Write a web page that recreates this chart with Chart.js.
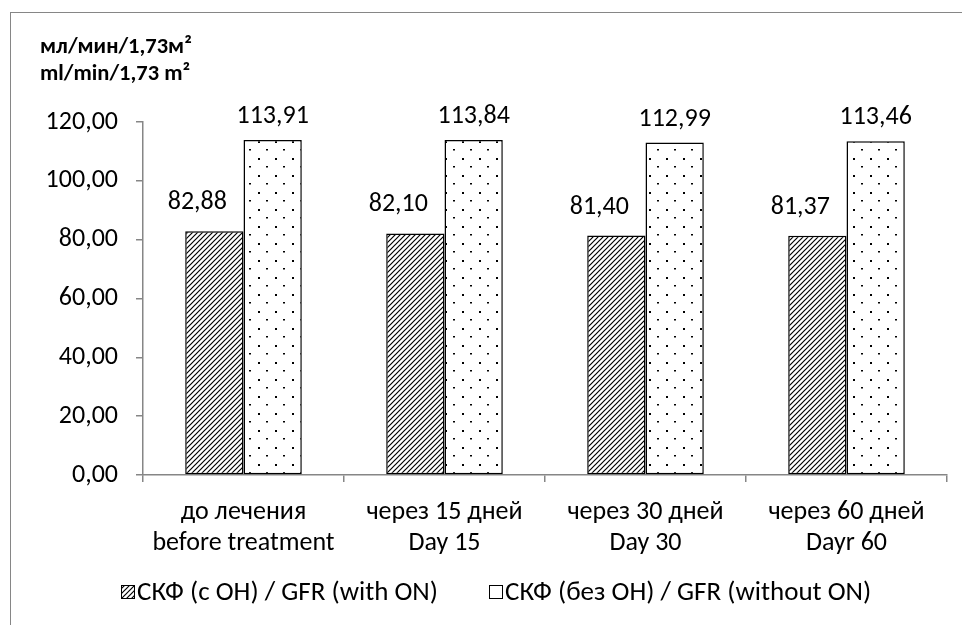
<!DOCTYPE html>
<html>
<head>
<meta charset="utf-8">
<script src="https://cdn.jsdelivr.net/npm/chart.js@4.4.1/dist/chart.umd.min.js"></script>
<style>
  html, body { margin: 0; padding: 0; background: #fff; }
  #wrap { width: 962px; height: 625px; }
</style>
</head>
<body>
<div id="wrap"><canvas id="chart"></canvas></div>
<script>
// data
const categories = [
  ['до лечения', 'before treatment'],
  ['через 15 дней', 'Day 15'],
  ['через 30 дней', 'Day 30'],
  ['через 60 дней', 'Dayr 60']
];
const seriesNames = ['СКФ (с ОН) / GFR (with ON)', 'СКФ (без ОН) / GFR (without ON)'];
const withON = [82.88, 82.10, 81.40, 81.37];
const withoutON = [113.91, 113.84, 112.99, 113.46];
const yTicks = [0, 20, 40, 60, 80, 100, 120];
const unitLines = ['мл/мин/1,73м²', 'ml/min/1,73 m²'];

const FONT = "Carlito, Lato, 'Noto Sans', sans-serif";
const AXIS_GREY = '#868686';

function fmt(v) {
  return v.toFixed(2).replace('.', ',');
}

// diagonal hatch fill
function hatchPattern() {
  const c = document.createElement('canvas');
  c.width = 5; c.height = 5;
  const g = c.getContext('2d');
  g.fillStyle = '#fff';
  g.fillRect(0, 0, 5, 5);
  g.strokeStyle = '#000';
  g.lineWidth = 1.2;
  g.beginPath();
  g.moveTo(0, 5); g.lineTo(5, 0);
  g.moveTo(-1, 1); g.lineTo(1, -1);
  g.moveTo(4, 6); g.lineTo(6, 4);
  g.stroke();
  return g.createPattern(c, 'repeat');
}

// sparse dots fill
function dotPattern() {
  const c = document.createElement('canvas');
  c.width = 17; c.height = 17;
  const g = c.getContext('2d');
  g.fillStyle = '#fff';
  g.fillRect(0, 0, 17, 17);
  g.fillStyle = '#000';
  g.fillRect(3, 5, 2, 2);
  g.fillRect(11, 13, 2, 1.5);
  return g.createPattern(c, 'repeat');
}

const framePlugin = {
  id: 'frame',
  beforeDraw(chart) {
    const ctx = chart.ctx;
    ctx.save();
    ctx.fillStyle = '#fff';
    ctx.fillRect(0, 0, chart.width, chart.height);
    ctx.strokeStyle = AXIS_GREY;
    ctx.lineWidth = 1;
    ctx.strokeRect(10.5, 12.5, 1000, 700);
    ctx.fillStyle = '#000';
    ctx.font = "bold 22.5px " + FONT;
    ctx.textBaseline = 'alphabetic';
    ctx.fillText(unitLines[0], 40, 53);
    ctx.fillText(unitLines[1], 40, 80);
    ctx.restore();
  }
};

// value labels: Excel nudged the left series labels away from the taller bar
const labelShift = [{ dx: -17, dy: -22 }, { dx: 0, dy: -17 }];

const valueLabels = {
  id: 'valueLabels',
  afterDatasetsDraw(chart) {
    const ctx = chart.ctx;
    ctx.save();
    ctx.fillStyle = '#000';
    ctx.font = "26px " + FONT;
    ctx.textAlign = 'center';
    ctx.textBaseline = 'alphabetic';
    chart.data.datasets.forEach((ds, i) => {
      const s = labelShift[i];
      chart.getDatasetMeta(i).data.forEach((bar, j) => {
        ctx.fillText(fmt(ds.data[j]), bar.x + s.dx, bar.y + s.dy);
      });
    });
    ctx.restore();
  }
};

// legend drawn by hand to get Excel's tight box/text spacing
const legendX = [121, 489];
const bottomLegend = {
  id: 'bottomLegend',
  afterDraw(chart) {
    const ctx = chart.ctx;
    ctx.save();
    ctx.font = "27px " + FONT;
    ctx.textBaseline = 'alphabetic';
    chart.data.datasets.forEach((ds, i) => {
      const x = legendX[i];
      ctx.fillStyle = ds.backgroundColor;
      ctx.fillRect(x, 585, 14, 14);
      ctx.strokeStyle = '#000';
      ctx.lineWidth = 1;
      ctx.strokeRect(x + 0.5, 585.5, 13, 13);
      ctx.fillStyle = '#000';
      ctx.fillText(ds.label, x + 16, 600);
    });
    ctx.restore();
  }
};

new Chart(document.getElementById('chart'), {
  type: 'bar',
  data: {
    labels: categories,
    datasets: [
      {
        label: seriesNames[0],
        data: withON,
        backgroundColor: hatchPattern(),
        borderColor: '#000',
        borderWidth: 1.5,
        borderSkipped: false
      },
      {
        label: seriesNames[1],
        data: withoutON,
        backgroundColor: dotPattern(),
        borderColor: '#000',
        borderWidth: 1.5,
        borderSkipped: false
      }
    ]
  },
  options: {
    responsive: true,
    maintainAspectRatio: false,
    animation: false,
    devicePixelRatio: 1,
    layout: { padding: { top: 122, left: 10, right: 15, bottom: 60 } },
    datasets: {
      bar: { barPercentage: 1, categoryPercentage: 0.58 }
    },
    scales: {
      x: {
        offset: true,
        grid: {
          offset: true,
          drawOnChartArea: false,
          tickLength: 7,
          color: AXIS_GREY,
          lineWidth: 1.5
        },
        border: { color: AXIS_GREY, width: 1.5 },
        ticks: {
          color: '#000',
          padding: 15,
          maxRotation: 0,
          font: { family: FONT, size: 26, lineHeight: 1.2 }
        },
        afterFit(scale) { scale.height = 90; }
      },
      y: {
        min: 0,
        max: 120,
        afterBuildTicks(scale) {
          scale.ticks = yTicks.map(v => ({ value: v }));
        },
        grid: {
          drawOnChartArea: false,
          tickLength: 7,
          color: AXIS_GREY,
          lineWidth: 1.5
        },
        border: { color: AXIS_GREY, width: 1.5 },
        ticks: {
          color: '#000',
          padding: 18,
          font: { family: FONT, size: 26 },
          callback: v => fmt(v)
        },
        afterFit(scale) { scale.width = 133; }
      }
    },
    plugins: {
      legend: { display: false },
      tooltip: { enabled: false }
    }
  },
  plugins: [framePlugin, valueLabels, bottomLegend]
});
</script>
</body>
</html>
